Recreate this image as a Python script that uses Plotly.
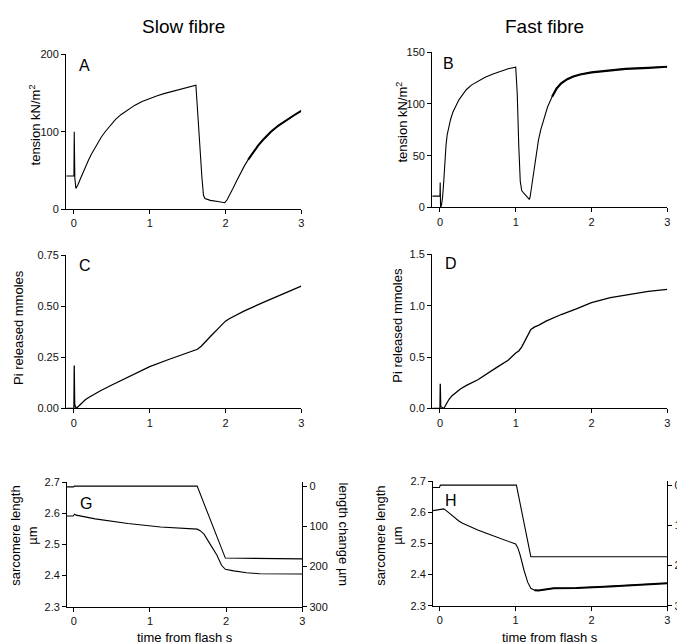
import plotly.graph_objects as go

# ---------------- data ----------------
# Panel A: slow fibre tension (kN/m^2)
A_t = [-0.1, -0.005, 0.0, 0.004, 0.012, 0.026, 0.05, 0.08, 0.104, 0.13, 0.16, 0.19, 0.23, 0.28,
       0.32, 0.36, 0.42, 0.49, 0.55, 0.62, 0.71, 0.8, 0.9, 1.0, 1.1, 1.2, 1.3, 1.4, 1.5, 1.61,
       1.69, 1.71, 1.73, 1.8, 1.9, 1.99, 2.02, 2.05, 2.1, 2.15, 2.2, 2.25, 2.3, 2.36, 2.43, 2.5,
       2.6, 2.7, 2.8, 2.9, 3.0]
A_tension = [43, 43, 43, 100, 40, 27, 31, 38, 44, 50, 57, 63, 71, 80,
             87, 93, 101, 109.5, 116, 122, 128.5, 134, 139, 143, 146.5, 149.5, 152, 154.5, 157, 160,
             40, 18, 14, 11.5, 10, 8.5, 12, 17, 27, 37, 47, 56, 64, 73, 82, 90,
             100, 108, 115, 121, 127]

# Panel B: fast fibre tension (kN/m^2)
B_t = [-0.1, -0.005, 0.0, 0.003, 0.008, 0.02, 0.035, 0.05, 0.065, 0.08, 0.095, 0.12, 0.14, 0.17,
       0.2, 0.25, 0.29, 0.35, 0.42, 0.5, 0.59, 0.7, 0.81, 0.9, 1.0, 1.02, 1.04, 1.06, 1.08, 1.12,
       1.18, 1.19, 1.21, 1.23, 1.26, 1.3, 1.33, 1.37, 1.42, 1.48, 1.54, 1.6, 1.68, 1.76, 1.85,
       2.0, 2.2, 2.45, 2.75, 3.0]
B_tension = [10.8, 10.8, 10.8, 24, 0, 2, 10, 25, 45, 60, 70, 79, 85, 92,
             97, 104, 108, 114, 118.5, 122, 125.5, 129, 132, 134, 135.5, 110, 60, 25, 16, 13,
             7.6, 10, 20, 32, 49, 65, 75, 86, 97, 107, 115, 120, 124, 126.5, 128.5,
             130.5, 132.3, 134, 135, 136]

# Panel C: slow fibre Pi released (mmoles)
C_t = [-0.1, -0.005, 0.0, 0.004, 0.01, 0.03, 0.06, 0.1, 0.15, 0.2, 0.27, 0.35, 0.5, 0.75, 1.0,
       1.25, 1.5, 1.58, 1.63, 1.68, 1.75, 1.82, 1.9, 1.96, 2.0, 2.05, 2.1, 2.25, 2.5, 2.75, 3.0]
C_pi = [0.0, 0.0, 0.0, 0.21, 0.02, 0.0, 0.012, 0.028, 0.043, 0.055, 0.07, 0.087, 0.115, 0.16,
        0.205, 0.24, 0.272, 0.283, 0.29, 0.305, 0.33, 0.36, 0.39, 0.415, 0.428, 0.44, 0.45,
        0.478, 0.52, 0.56, 0.60]

# Panel D: fast fibre Pi released (mmoles)
D_t = [-0.1, -0.005, 0.0, 0.004, 0.01, 0.05, 0.08, 0.12, 0.16, 0.2, 0.27, 0.35, 0.5, 0.75, 0.9,
       1.0, 1.04, 1.08, 1.12, 1.17, 1.2, 1.25, 1.3, 1.4, 1.5, 1.6, 1.8, 2.0, 2.25, 2.5, 2.75, 3.0]
D_pi = [0.0, 0.0, 0.0, 0.24, 0.02, 0.0, 0.04, 0.09, 0.125, 0.15, 0.19, 0.225, 0.28, 0.40, 0.47,
        0.54, 0.56, 0.60, 0.66, 0.73, 0.77, 0.795, 0.81, 0.85, 0.885, 0.915, 0.97, 1.03, 1.08,
        1.11, 1.14, 1.16]

# Panel G: slow fibre sarcomere length (um) and length change (um)
G_t = [-0.1, -0.01, 0.01, 0.03, 0.28, 0.71, 1.14, 1.62, 1.66, 1.71, 1.79, 1.88, 1.94, 1.99,
       2.1, 2.27, 2.44, 3.0]
G_sarcomere = [2.591, 2.591, 2.597, 2.594, 2.582, 2.567, 2.556, 2.549, 2.544, 2.533, 2.501,
               2.465, 2.433, 2.42, 2.415, 2.409, 2.406, 2.405]
G_len_t = [-0.1, -0.005, 0.005, 1.62, 1.99, 2.5, 3.0]
G_length_change = [2, 2, 0, 0, 179, 180, 181]

# Panel H: fast fibre sarcomere length (um) and length change (um)
H_t = [-0.1, 0.0, 0.05, 0.08, 0.12, 0.16, 0.2, 0.25, 0.3, 0.38, 0.5, 0.64, 0.78, 0.9, 1.0, 1.03,
       1.06, 1.11, 1.16, 1.2, 1.25, 1.3, 1.5, 1.8, 2.24, 2.67, 3.0]
H_sarcomere = [2.605, 2.609, 2.611, 2.606, 2.598, 2.588, 2.58, 2.572, 2.565, 2.556, 2.543, 2.53,
               2.517, 2.506, 2.498, 2.485, 2.462, 2.414, 2.375, 2.356, 2.35, 2.349, 2.356,
               2.357, 2.362, 2.367, 2.372]
H_len_t = [-0.1, -0.005, 0.005, 1.01, 1.2, 3.0]
H_length_change = [6, 6, 0, 0, 178, 178]

time_ticks = [0, 1, 2, 3]

# ---------------- layout helpers ----------------
W, HH = 685, 643
FONT = "Liberation Sans, Arial, Helvetica, sans-serif"


def px(x):
    return x / W


def py(y):
    return 1 - y / HH


def line_trace(x, y, xa, ya, width=1.1):
    return go.Scatter(x=x, y=y, xaxis=xa, yaxis=ya, mode="lines",
                      line=dict(color="black", width=width),
                      showlegend=False, hoverinfo="skip")


def xaxis(left, right, anchor, rng):
    return dict(domain=[px(left), px(right)], anchor=anchor, range=rng,
                showline=True, linecolor="black", linewidth=1,
                ticks="outside", ticklen=4, tickwidth=1, tickcolor="black",
                tickvals=time_ticks, showgrid=False, zeroline=False,
                tickfont=dict(size=11, color="#111", family=FONT), fixedrange=True)


def yaxis(top, bottom, anchor, rng, vals, fmt):
    return dict(domain=[py(bottom), py(top)], anchor=anchor, range=rng,
                showline=True, linecolor="black", linewidth=1,
                ticks="outside", ticklen=4, tickwidth=1, tickcolor="black",
                tickvals=vals, tickformat=fmt, showgrid=False, zeroline=False,
                tickfont=dict(size=11, color="#111", family=FONT), fixedrange=True)


fig = go.Figure()

# A
fig.add_trace(line_trace(A_t, A_tension, "x", "y"))
fig.add_trace(line_trace(A_t[42:], A_tension[42:], "x", "y", 2.0))
# B
fig.add_trace(line_trace(B_t, B_tension, "x2", "y2"))
fig.add_trace(line_trace(B_t[39:], B_tension[39:], "x2", "y2", 2.2))
# C
fig.add_trace(line_trace(C_t, C_pi, "x3", "y3", 1.3))
# D
fig.add_trace(line_trace(D_t, D_pi, "x4", "y4", 1.3))
# G
fig.add_trace(line_trace(G_t, G_sarcomere, "x5", "y5"))
fig.add_trace(line_trace(G_len_t, G_length_change, "x5", "y7"))
# H
fig.add_trace(line_trace(H_t, H_sarcomere, "x6", "y6"))
fig.add_trace(line_trace(H_t[20:], H_sarcomere[20:], "x6", "y6", 2.0))
fig.add_trace(line_trace(H_len_t, H_length_change, "x6", "y8"))

xr = [-0.104, 3.0]
xr2 = [-0.09, 3.0]

fig.update_layout(
    width=W, height=HH,
    margin=dict(l=0, r=0, t=0, b=0),
    paper_bgcolor="white", plot_bgcolor="white",
    font=dict(family=FONT, color="black"),
    xaxis=xaxis(59, 298, "y", xr),
    yaxis=yaxis(41, 199, "x", [0, 200], [0, 100, 200], "d"),
    xaxis2=xaxis(431, 670, "y2", xr),
    yaxis2=yaxis(39, 197, "x2", [0, 150], [0, 50, 100, 150], "d"),
    xaxis3=xaxis(59, 298, "y3", xr),
    yaxis3=yaxis(246, 402, "x3", [0, 0.75], [0, 0.25, 0.5, 0.75], ".2f"),
    xaxis4=xaxis(431, 670, "y4", xr),
    yaxis4=yaxis(245, 402, "x4", [0, 1.5], [0, 0.5, 1.0, 1.5], ".1f"),
    xaxis5=xaxis(60, 299, "y5", xr2),
    yaxis5=yaxis(477, 604, "x5", [2.3, 2.7], [2.3, 2.4, 2.5, 2.6, 2.7], ".1f"),
    xaxis6=xaxis(432, 670, "y6", xr2),
    yaxis6=yaxis(476, 603, "x6", [2.3, 2.7], [2.3, 2.4, 2.5, 2.6, 2.7], ".1f"),
)

r7 = yaxis(477, 604, "x5", [300, -10], [0, 100, 200, 300], "d")
r7.update(overlaying="y5", side="right")
r8 = yaxis(476, 603, "x6", [300, -10], [0, 100, 200, 300], "d")
r8.update(overlaying="y6", side="right")
fig.update_layout(yaxis7=r7, yaxis8=r8)


def ann(text, x, y, size=13, angle=0):
    fig.add_annotation(text=text, x=px(x), y=py(y), xref="paper", yref="paper",
                       showarrow=False, textangle=angle, xanchor="center", yanchor="middle",
                       font=dict(size=size, family=FONT, color="black"))


# column titles
ann("Slow fibre", 178, 13, 19)
ann("Fast fibre", 545, 13, 19)
# panel letters
ann("A", 78, 52, 16)
ann("B", 448, 50, 16)
ann("C", 78, 256, 16)
ann("D", 450, 254, 16)
ann("G", 79, 499, 16)
ann("H", 450, 496, 16)
# y titles
ann("tension kN/m<sup>2</sup>", 27, 113, 13, -90)
ann("tension kN/m<sup>2</sup>", 400, 110, 13, -90)
ann("Pi released mmoles", 10, 319, 13, -90)
ann("Pi released mmoles", 395, 317, 13, -90)
ann("sarcomere length<br>µm", 16, 532, 13, -90)
ann("sarcomere length<br>µm", 387, 532, 13, -90)
ann("length change µm", 341, 530, 13, 90)
# x titles
ann("time from flash s", 180, 635, 13)
ann("time from flash s", 551, 635, 13)

fig.write_html("out.html")
